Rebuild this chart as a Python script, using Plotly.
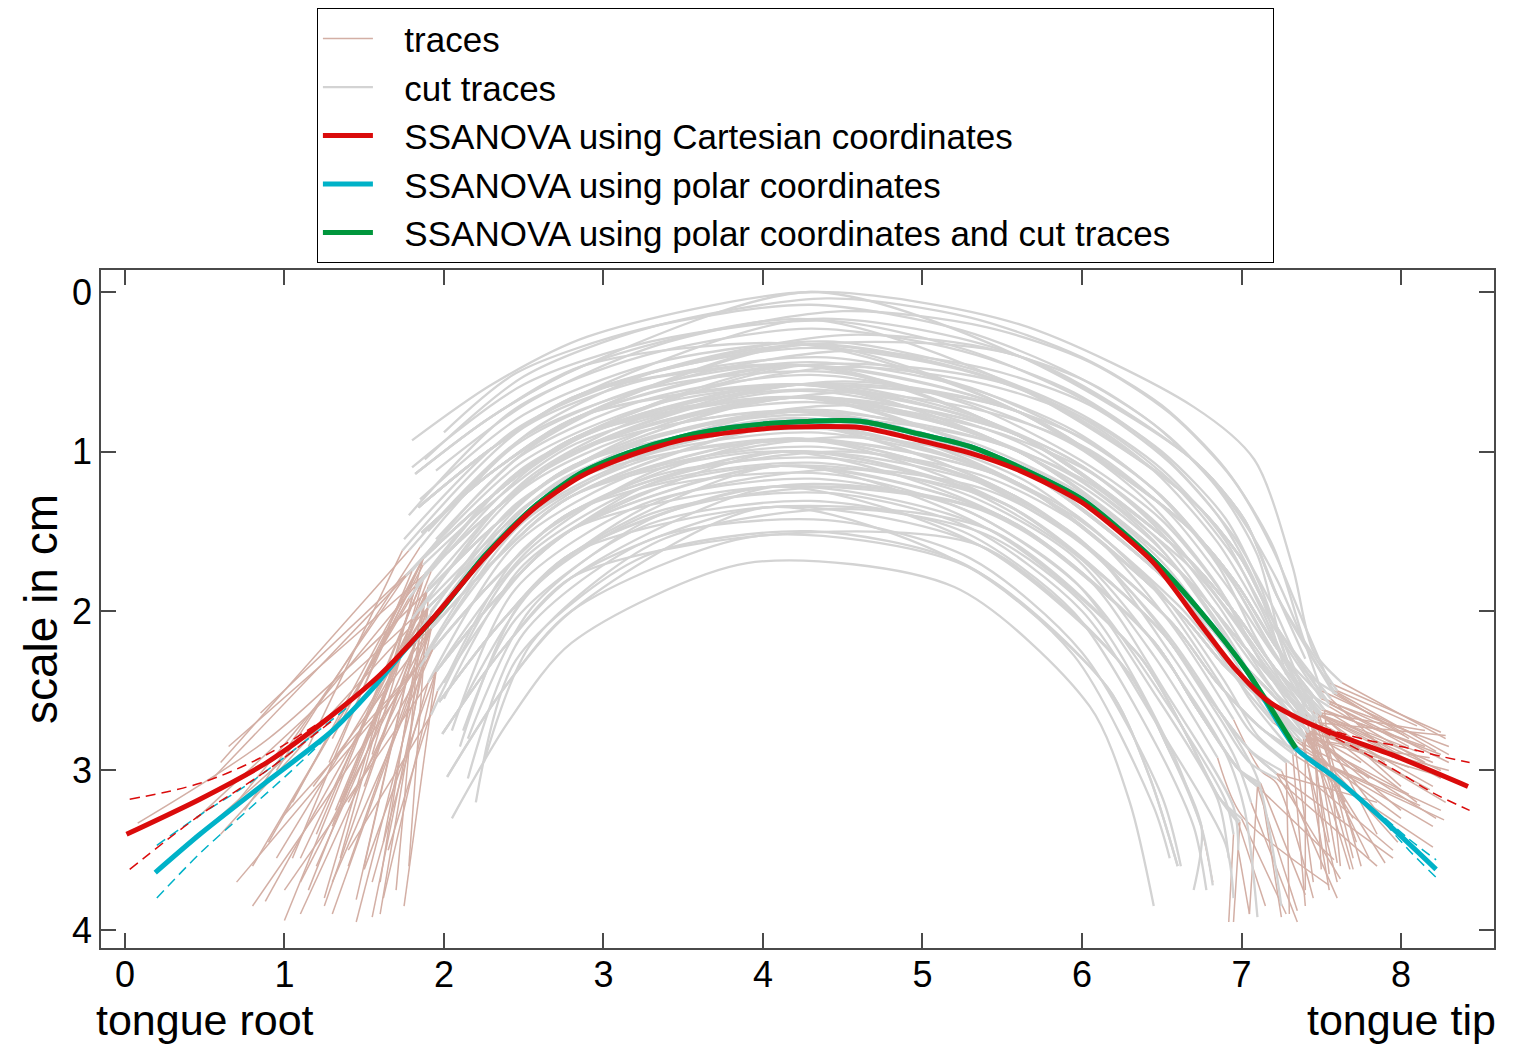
import plotly.graph_objects as go

# ---------------- data: individual tongue traces (x, y in cm) ----------------
# every trace is listed left -> right; GRAY_FROM / GRAY_TO give the index range of the
# part that survives the cut ("cut traces"); the outer ends belong only to "traces".
TRACE_X = [
    [1.80,2.30,2.90,4.30,5.60,6.70,7.08,7.32,7.45,7.63,8.28],
    [1.82,2.30,2.88,4.30,5.60,6.68,7.02,7.23,7.58,8.22],
    [1.82,2.30,2.88,4.28,5.60,6.66,6.99,7.22,7.46,7.72],
    [1.84,2.30,2.86,4.28,5.60,6.68,7.02,7.23,7.60,8.10],
    [1.84,2.30,2.86,4.26,5.60,6.66,6.99,7.22,7.55,8.30],
    [1.84,2.30,2.86,4.25,5.60,6.65,6.97,7.22,7.52,8.15],
    [1.86,2.30,2.85,4.26,5.60,6.66,6.99,7.22,7.56,7.95],
    [1.86,2.30,2.85,4.25,5.60,6.65,6.97,7.22,7.48,7.70],
    [1.86,2.30,2.85,4.25,5.60,6.63,6.95,7.21,7.50,8.25],
    [1.86,2.30,2.85,4.23,5.60,6.65,6.97,7.22,7.55,8.05],
    [1.84,2.30,2.86,4.25,5.60,6.63,6.95,7.21,7.50,8.00],
    [1.82,2.30,2.88,4.26,5.60,6.65,6.97,7.22,7.52,7.62],
    [1.84,2.30,2.86,4.26,5.60,6.68,7.02,7.23,7.40],
    [2.30,2.85,4.26,5.60,6.65,6.97,7.22,7.45],
    [1.05,1.87,2.30,2.83,4.23,5.60,6.63,6.95,7.21,7.50,8.20],
    [0.85,1.87,2.30,2.83,4.25,5.60,6.63,6.95,7.21,7.48,7.85],
    [1.35,1.87,2.30,2.83,4.23,5.60,6.62,6.93,7.21,7.48,8.28],
    [0.55,1.87,2.30,2.83,4.22,5.60,6.63,6.95,7.21,7.45,8.10],
    [1.00,1.88,2.30,2.82,4.22,5.60,6.62,6.93,7.21,7.45,7.60],
    [1.20,1.88,2.30,2.82,4.23,5.60,6.62,6.93,7.21,7.45,8.18],
    [0.80,1.88,2.30,2.82,4.22,5.60,6.61,6.92,7.20,7.42,8.05],
    [1.45,1.89,2.30,2.81,4.22,5.60,6.62,6.93,7.21,7.44,7.92],
    [0.08,0.90,1.89,2.30,2.81,4.21,5.60,6.61,6.92,7.20,7.42,8.30],
    [1.15,1.89,2.30,2.81,4.21,5.60,6.62,6.93,7.21,7.44,7.55],
    [0.70,1.88,2.30,2.82,4.21,5.60,6.60,6.90,7.20,7.40,8.22],
    [1.28,1.87,2.30,2.83,4.22,5.60,6.61,6.92,7.20,7.42,7.80],
    [1.60,1.89,2.30,2.81,4.21,5.60,6.61,6.92,7.20,7.40,7.90],
    [0.95,1.90,2.30,2.80,4.20,5.60,6.60,6.90,7.20,7.40,8.05],
    [1.25,1.90,2.30,2.80,4.21,5.60,6.60,6.90,7.20,7.38,7.60],
    [0.60,1.90,2.30,2.80,4.20,5.56,6.55,6.84,7.13,7.35,8.27],
    [1.40,1.92,2.31,2.80,4.20,5.60,6.60,6.90,7.20,7.40,7.98],
    [1.10,1.92,2.31,2.80,4.17,5.56,6.55,6.84,7.13,7.34,7.45],
    [1.32,1.89,2.30,2.81,4.20,5.56,6.55,6.84,7.13,7.35,8.12],
    [0.88,1.90,2.30,2.80,4.17,5.60,6.60,6.90,7.20,7.40,7.70],
    [1.55,1.92,2.31,2.80,4.17,5.60,6.60,6.90,7.20,7.40,8.18],
    [1.62,1.90,2.30,2.80,4.20,5.60,6.61,6.92,7.20,7.42,7.68],
    [1.30,1.93,2.32,2.80,4.14,5.52,6.49,6.78,7.05,7.25,7.60],
    [0.98,1.93,2.32,2.80,4.17,5.52,6.49,6.78,7.05,7.22,7.95],
    [1.50,1.95,2.33,2.80,4.11,5.48,6.44,6.72,6.98,7.10,7.35],
    [1.18,1.92,2.31,2.80,4.14,5.48,6.44,6.72,6.98,7.12,7.25],
    [1.75,1.95,2.33,2.80,4.14,5.52,6.49,6.78,7.05,7.22,7.85],
    [1.40,1.93,2.32,2.80,4.11,5.48,6.44,6.72,6.98,7.10,7.05],
    [1.95,2.33,2.80,4.11,5.52,6.49,6.78,7.05,7.22,7.62],
    [0.70,1.93,2.32,2.80,4.14,5.56,6.55,6.84,7.13,7.33,8.20],
    [1.97,2.35,2.80,4.07,5.42,6.35,6.63,6.86,6.99,6.95],
    [1.97,2.35,2.80,4.11,5.42,6.35,6.63,6.86,7.00,7.28],
    [1.99,2.36,2.80,4.02,5.36,6.27,6.54,6.75,6.82],
    [1.97,2.35,2.80,4.02,5.42,6.35,6.63,6.86,6.98,7.15],
    [1.62,1.95,2.33,2.80,4.07,5.48,6.44,6.72,6.98,7.10,7.58],
    [1.99,2.36,2.80,4.07,5.48,6.44,6.72,6.98,7.12,7.40],
    [1.97,2.35,2.80,4.07,5.36,6.27,6.54,6.75,6.70],
    [2.02,2.38,2.80,3.96,5.28,6.16,6.42,6.60],
    [2.05,2.40,2.80,3.90,5.20,6.05,6.30,6.45],
    [2.02,2.38,2.80,4.02,5.28,6.16,6.42,6.60],
    [1.99,2.36,2.80,3.96,5.36,6.27,6.54],
    [1.30,1.87,2.30,2.83,4.23,5.60,6.63,6.95,7.21,7.45,7.50],
    [0.65,1.88,2.30,2.82,4.22,5.60,6.63,6.95,7.21,7.50,8.15],
    [1.10,1.89,2.30,2.81,4.22,5.60,6.61,6.92,7.20,7.42,7.75],
    [1.50,1.90,2.30,2.80,4.21,5.60,6.61,6.92,7.20,7.42,8.00],
    [1.86,2.30,2.85,4.23,5.60,6.63,6.95,7.21,7.50,8.10],
    [1.40,1.87,2.30,2.83,4.25,5.60,6.66,6.99,7.22,7.52,8.02],
    [0.30,1.92,2.31,2.80,4.20,5.60,6.61,6.92,7.20,7.42,7.65],
    [1.55,1.88,2.30,2.82,4.23,5.60,6.65,6.97,7.22,7.52,8.25],
    [1.78,1.90,2.30,2.80,4.20,5.60,6.60,6.90,7.20,7.40,7.40],
    [1.88,2.50,3.30,4.40,5.30,6.00,6.50,6.90,7.20,7.38,7.50,8.10],
    [2.00,2.45,3.25,4.30,5.25,5.95,6.45,6.85,7.10,7.25,7.40,7.55],
    [1.95,2.55,3.35,4.50,5.40,6.05,6.55,6.95,7.20,7.40,7.55,8.25],
    [1.80,2.50,3.30,4.40,5.30,6.00,6.50,6.90,7.12,7.30,7.42,7.95],
    [1.78,2.45,3.25,4.30,5.25,5.95,6.45,6.85,7.10,7.28],
    [1.90,2.55,3.35,4.50,5.40,6.05,6.55,6.95,7.22,7.42,7.58,8.30],
    [1.85,2.50,3.30,4.40,5.30,6.00,6.50,6.90,7.12,7.32,7.48,7.75],
    [1.75,2.45,3.25,4.30,5.25,5.95,6.45,6.85,7.10,7.35,7.55,8.15],
    [1.95,2.55,3.35,4.50,5.40,6.05,6.55,6.95,7.20,7.40,7.60,8.05],
    [1.15,1.74,2.50,3.30,4.40,5.30,6.00,6.50,6.90,7.15,7.42,8.25],
    [0.95,1.85,2.45,3.25,4.30,5.25,5.95,6.45,6.85,7.08,7.35,7.62],
    [1.30,1.92,2.55,3.35,4.50,5.40,6.05,6.55,6.95,7.20,7.50,8.30],
    [0.60,1.78,2.50,3.30,4.40,5.30,6.00,6.50,6.90,7.12,7.38,7.80],
    [1.05,1.80,2.45,3.25,4.30,5.25,5.95,6.45,6.85,7.08,7.40,8.20],
    [1.50,1.90,2.55,3.35,4.50,5.40,6.05,6.55,6.95,7.20,7.45,7.90],
    [0.75,1.76,2.50,3.30,4.40,5.30,6.00,6.50,6.90,7.15,7.40,8.28],
    [1.25,1.82,2.45,3.25,4.30,5.25,5.95,6.45,6.85,7.10,7.38,7.55],
    [1.60,1.92,2.55,3.35,4.50,5.40,6.05,6.55,6.95,7.22,7.50,8.15],
    [0.90,1.78,2.50,3.30,4.40,5.30,6.00,6.50,6.90,7.12,7.35,8.00],
    [1.35,1.85,2.45,3.25,4.30,5.25,5.95,6.45,6.85,7.08,7.38,8.30],
    [1.10,1.92,2.55,3.35,4.50,5.40,6.05,6.55,6.95,7.20,7.45,7.70],
    [0.45,1.80,2.50,3.30,4.40,5.30,6.00,6.50,6.90,7.12,7.35,8.20],
    [1.70,1.85,2.45,3.25,4.30,5.25,5.95,6.45,6.85,7.05,7.32,7.40],
    [0.80,1.95,2.55,3.35,4.50,5.40,6.05,6.55,6.95,7.20,7.48,8.05],
    [1.20,1.82,2.50,3.30,4.40,5.30,6.00,6.50,6.90,7.10,7.30,7.95],
    [1.45,1.88,2.45,3.25,4.30,5.25,5.95,6.45,6.85,7.05,7.28,7.30],
    [1.00,1.95,2.55,3.35,4.50,5.40,6.05,6.55,6.95,7.20,7.42,8.25],
    [1.30,1.85,2.50,3.30,4.40,5.30,6.00,6.50,6.90,7.10,7.25],
    [1.55,1.90,2.45,3.25,4.30,5.25,5.95,6.45,6.85,7.05,7.22,7.85],
    [1.65,1.96,2.55,3.35,4.50,5.40,6.05,6.55,6.95,7.12,7.22,7.45],
    [2.00,2.50,3.30,4.40,5.30,6.00,6.50,6.90,7.02,7.10],
    [1.40,1.92,2.45,3.25,4.30,5.25,5.95,6.45,6.85,7.00,7.55],
    [2.08,2.55,3.35,4.50,5.40,6.05,6.55,6.95,7.06,7.35],
    [2.00,2.50,3.30,4.40,5.30,6.00,6.50,6.90,6.95,6.92],
    [2.05,2.45,3.25,4.30,5.25,5.95,6.45,6.85,6.92],
    [2.15,2.55,3.35,4.50,5.40,6.05,6.55,6.95,6.98,7.05],
    [2.10,2.50,3.30,4.40,5.30,6.00,6.50,6.90,6.95],
    [2.12,2.45,3.25,4.30,5.25,5.95,6.45,6.70,6.78],
    [2.25,2.55,3.35,4.50,5.40,6.05,6.55,6.75,6.82],
    [2.15,2.50,3.30,4.40,5.30,6.00,6.50,6.62],
    [2.20,2.45,3.25,4.30,5.25,5.95,6.45,6.55],
    [2.35,2.55,3.35,4.50,5.40,6.05,6.55,6.62],
]
TRACE_Y = [
    [0.93,0.58,0.28,0.00,0.20,0.72,1.05,1.72,2.25,2.45,2.80],
    [1.14,0.78,0.46,0.00,0.40,1.04,1.43,1.92,2.52,2.88],
    [1.14,0.78,0.46,0.17,0.60,1.28,1.66,2.10,2.68,3.45],
    [1.35,0.98,0.64,0.17,0.40,1.04,1.43,1.92,2.50,2.72],
    [1.35,0.98,0.64,0.33,0.60,1.28,1.66,2.10,2.58,2.95],
    [1.35,0.98,0.64,0.46,0.75,1.46,1.83,2.23,2.62,3.00],
    [1.51,1.13,0.78,0.33,0.60,1.28,1.66,2.10,2.55,2.92],
    [1.51,1.13,0.78,0.46,0.75,1.46,1.83,2.23,2.66,3.55],
    [1.51,1.13,0.78,0.46,0.90,1.64,2.00,2.36,2.65,3.05],
    [1.51,1.13,0.78,0.58,0.75,1.46,1.83,2.23,2.58,2.85],
    [1.35,0.98,0.64,0.46,0.90,1.64,2.00,2.36,2.65,3.10],
    [1.14,0.78,0.46,0.33,0.75,1.46,1.83,2.23,2.62,3.60],
    [1.35,0.98,0.64,0.33,0.40,1.04,1.43,1.92,2.30],
    [1.13,0.78,0.33,0.75,1.46,1.83,2.23,2.55],
    [3.20,1.67,1.28,0.91,0.58,0.90,1.64,2.00,2.36,2.65,2.95],
    [2.64,1.67,1.28,0.91,0.46,0.90,1.64,2.00,2.36,2.68,3.40],
    [3.55,1.67,1.28,0.91,0.58,1.00,1.76,2.12,2.45,2.70,2.78],
    [3.05,1.67,1.28,0.91,0.66,0.90,1.64,2.00,2.36,2.70,3.20],
    [3.94,1.77,1.38,1.00,0.66,1.00,1.76,2.12,2.45,2.72,3.58],
    [3.40,1.77,1.38,1.00,0.58,1.00,1.76,2.12,2.45,2.72,3.12],
    [3.60,1.77,1.38,1.00,0.66,1.10,1.88,2.24,2.53,2.75,2.98],
    [3.81,1.88,1.48,1.09,0.66,1.00,1.76,2.12,2.45,2.72,3.35],
    [3.33,2.80,1.88,1.48,1.09,0.75,1.10,1.88,2.24,2.53,2.76,3.00],
    [3.75,1.88,1.48,1.09,0.75,1.00,1.76,2.12,2.45,2.72,3.65],
    [3.20,1.77,1.38,1.00,0.75,1.20,2.00,2.35,2.62,2.78,3.30],
    [2.95,1.67,1.28,0.91,0.66,1.10,1.88,2.24,2.53,2.76,3.05],
    [3.70,1.88,1.48,1.09,0.75,1.10,1.88,2.24,2.53,2.78,3.58],
    [3.55,1.98,1.58,1.18,0.83,1.20,2.00,2.35,2.62,2.80,3.15],
    [3.85,1.98,1.58,1.18,0.75,1.20,2.00,2.35,2.62,2.82,3.70],
    [3.40,1.98,1.58,1.18,0.83,1.27,2.06,2.44,2.74,2.88,3.31],
    [3.60,2.11,1.69,1.28,0.83,1.20,2.00,2.35,2.62,2.80,3.45],
    [3.90,2.11,1.69,1.28,0.92,1.27,2.06,2.44,2.74,2.88,3.70],
    [3.25,1.88,1.48,1.09,0.83,1.27,2.06,2.44,2.74,2.88,3.22],
    [3.82,1.98,1.58,1.18,0.92,1.20,2.00,2.35,2.62,2.80,3.30],
    [3.92,2.11,1.69,1.28,0.92,1.20,2.00,2.35,2.62,2.80,2.92],
    [3.45,1.98,1.58,1.18,0.83,1.10,1.88,2.24,2.53,2.76,3.62],
    [3.70,2.24,1.80,1.38,1.00,1.33,2.12,2.52,2.87,3.00,3.80],
    [3.30,2.24,1.80,1.38,0.92,1.33,2.12,2.52,2.87,3.02,3.55],
    [3.62,2.38,1.92,1.49,1.09,1.40,2.18,2.61,2.99,3.10,3.88],
    [3.10,2.11,1.69,1.28,1.00,1.40,2.18,2.61,2.99,3.10,3.92],
    [3.85,2.38,1.92,1.49,1.00,1.33,2.12,2.52,2.87,3.02,3.20],
    [3.20,2.24,1.80,1.38,1.09,1.40,2.18,2.61,2.99,3.10,3.90],
    [2.38,1.92,1.49,1.09,1.33,2.12,2.52,2.87,3.02,3.68],
    [3.70,2.24,1.80,1.38,1.00,1.27,2.06,2.44,2.74,2.90,3.48],
    [2.57,2.08,1.64,1.22,1.49,2.27,2.73,3.17,3.32,3.95],
    [2.57,2.08,1.64,1.09,1.49,2.27,2.73,3.17,3.30,3.90],
    [2.77,2.25,1.79,1.35,1.59,2.36,2.86,3.36,3.72],
    [2.57,2.08,1.64,1.35,1.49,2.27,2.73,3.17,3.33,3.85],
    [3.80,2.38,1.92,1.49,1.22,1.40,2.18,2.61,2.99,3.10,3.56],
    [2.77,2.25,1.79,1.22,1.40,2.18,2.61,2.99,3.08,3.78],
    [2.57,2.08,1.64,1.22,1.59,2.36,2.86,3.36,3.75],
    [3.04,2.48,2.00,1.53,1.72,2.48,3.03,3.60],
    [3.30,2.70,2.20,1.70,1.85,2.60,3.20,3.85],
    [3.04,2.48,2.00,1.35,1.72,2.48,3.03,3.60],
    [2.77,2.25,1.79,1.53,1.59,2.36,2.86],
    [2.80,1.71,1.32,0.95,0.62,0.94,1.68,2.04,2.40,2.68,3.62],
    [2.85,1.77,1.38,1.00,0.66,0.90,1.64,2.00,2.36,2.64,2.75],
    [3.55,1.88,1.48,1.09,0.66,1.10,1.88,2.24,2.53,2.76,2.95],
    [3.10,1.98,1.58,1.18,0.75,1.10,1.88,2.24,2.53,2.76,3.25],
    [1.51,1.13,0.78,0.58,0.90,1.64,2.00,2.36,2.65,2.88],
    [2.60,1.67,1.28,0.91,0.46,0.60,1.28,1.66,2.10,2.55,2.78],
    [3.55,2.11,1.69,1.28,0.83,1.10,1.88,2.24,2.53,2.76,3.20],
    [2.90,1.77,1.38,1.00,0.58,0.75,1.46,1.83,2.23,2.62,2.90],
    [3.60,1.94,1.54,1.14,0.79,1.16,1.96,2.31,2.58,2.80,3.75],
    [1.05,0.53,0.22,0.04,0.16,0.41,0.71,1.11,1.60,2.15,2.50,2.78],
    [0.88,0.51,0.23,0.08,0.24,0.52,0.83,1.23,1.65,2.20,2.62,3.45],
    [1.12,0.68,0.33,0.12,0.22,0.44,0.76,1.18,1.62,2.10,2.45,2.76],
    [1.10,0.58,0.31,0.18,0.37,0.67,1.00,1.42,1.85,2.35,2.62,2.90],
    [1.40,0.73,0.40,0.23,0.37,0.63,0.97,1.40,1.85,2.40],
    [1.50,0.87,0.49,0.27,0.35,0.57,0.91,1.35,1.80,2.25,2.50,2.90],
    [1.30,0.77,0.45,0.31,0.48,0.77,1.11,1.56,1.98,2.40,2.62,3.60],
    [1.55,0.86,0.52,0.35,0.49,0.76,1.12,1.57,1.98,2.45,2.60,2.95],
    [1.55,0.97,0.58,0.37,0.48,0.71,1.07,1.53,1.98,2.38,2.52,2.80],
    [2.85,1.62,0.85,0.54,0.41,0.60,0.92,1.28,1.75,2.18,2.62,3.00],
    [3.00,1.60,0.96,0.60,0.44,0.59,0.87,1.24,1.71,2.15,2.62,3.30],
    [3.35,1.75,1.10,0.69,0.47,0.58,0.81,1.18,1.66,2.10,2.55,2.85],
    [2.95,1.62,0.91,0.60,0.50,0.71,1.06,1.43,1.92,2.32,2.70,3.55],
    [3.55,1.75,1.05,0.68,0.52,0.68,0.96,1.35,1.84,2.25,2.65,3.10],
    [3.60,1.85,1.15,0.75,0.56,0.69,0.94,1.33,1.83,2.25,2.62,2.95],
    [3.25,1.78,1.06,0.71,0.58,0.77,1.09,1.48,1.98,2.35,2.68,3.20],
    [3.80,1.85,1.14,0.76,0.61,0.77,1.06,1.46,1.96,2.35,2.75,3.75],
    [3.90,2.00,1.27,0.84,0.63,0.75,0.99,1.39,1.90,2.30,2.62,2.85],
    [3.45,1.92,1.10,0.76,0.66,0.87,1.22,1.62,2.14,2.50,2.82,3.30],
    [3.20,2.00,1.24,0.84,0.69,0.86,1.16,1.56,2.09,2.45,2.78,3.05],
    [3.70,2.10,1.32,0.90,0.71,0.86,1.13,1.54,2.06,2.42,2.72,3.62],
    [3.30,2.05,1.23,0.86,0.74,0.94,1.27,1.69,2.22,2.58,2.85,3.35],
    [3.75,2.12,1.33,0.92,0.77,0.95,1.25,1.67,2.21,2.55,2.88,3.85],
    [3.85,2.18,1.43,0.99,0.80,0.93,1.20,1.63,2.17,2.50,2.75,3.05],
    [3.60,2.20,1.35,0.97,0.86,1.08,1.44,1.89,2.45,2.78,2.95,3.50],
    [3.95,2.28,1.46,1.03,0.88,1.06,1.39,1.86,2.43,2.75,2.95,3.90],
    [3.75,2.38,1.60,1.11,0.91,1.04,1.33,1.82,2.40,2.70,2.85,3.25],
    [3.90,2.35,1.44,1.04,0.94,1.17,1.58,2.10,2.69,3.05,3.85],
    [3.70,2.45,1.58,1.12,0.97,1.15,1.52,2.05,2.65,2.95,3.05,3.60],
    [3.50,2.50,1.69,1.18,1.00,1.16,1.51,2.07,2.68,3.00,3.08,3.80],
    [2.45,1.61,1.16,1.04,1.25,1.68,2.27,2.89,3.25,3.92],
    [3.50,2.65,1.72,1.22,1.07,1.26,1.66,2.28,2.92,3.28,3.72],
    [2.65,1.87,1.31,1.11,1.24,1.61,2.26,2.90,3.20,3.95],
    [2.55,1.71,1.24,1.14,1.38,1.86,2.53,3.19,3.40,3.95],
    [2.75,1.86,1.33,1.17,1.36,1.81,2.51,3.18,3.55],
    [2.80,1.98,1.40,1.22,1.38,1.81,2.55,3.23,3.50,3.90],
    [2.85,1.92,1.39,1.26,1.48,2.00,2.76,3.46,3.80],
    [2.75,2.05,1.47,1.31,1.50,2.01,2.81,3.35,3.75],
    [2.95,2.20,1.56,1.36,1.52,2.00,2.85,3.35,3.70],
    [3.05,2.14,1.55,1.43,1.67,2.26,3.16,3.60],
    [3.20,2.31,1.66,1.50,1.70,2.28,3.23,3.55],
    [3.40,2.51,1.79,1.60,1.77,2.37,3.40,3.80],
]
GRAY_FROM = [0,0,0,0,0,0,0,0,0,0,0,0,0,0,
             1,1,1,1,1,1,1,1,2,1,1,1,1,1,1,1,1,1,1,1,1,1,
             1,1,1,1,1,1,0,1,0,0,0,0,1,0,0,0,0,0,0,1,1,1,1,0,1,1,1,1,
             0,0,0,0,0,0,0,0,0,1,1,1,1,1,1,1,1,1,1,1,1,1,1,1,1,1,1,1,1,1,
             0,1,0,0,0,0,0,0,0,0,0,0]
GRAY_TO = [9,8,8,8,8,8,8,8,8,8,8,8,8,7,
           9,9,9,9,9,9,9,9,10,9,9,9,9,9,9,9,9,9,9,9,9,9,
           9,9,9,9,9,9,8,9,8,8,8,8,9,8,8,7,7,7,6,9,9,9,9,8,9,9,9,9,
           10,10,10,10,9,10,10,10,10,10,10,10,10,10,10,10,10,10,10,10,10,10,10,10,10,10,9,10,10,
           8,9,8,8,8,8,8,8,8,7,7,7]

# ---------------- SSANOVA fits ----------------
CART_X = [0.01,0.47,0.89,1.29,1.60,1.91,2.25,2.55,2.85,3.15,3.48,3.80,4.11,4.61,
          4.98,5.30,5.61,6.00,6.45,6.74,6.95,7.16,7.37,7.58,7.99,8.42]
CART_Y = [3.40,3.18,2.95,2.66,2.40,2.07,1.67,1.37,1.16,1.03,0.93,0.88,0.85,0.85,
          0.93,1.01,1.12,1.32,1.70,2.08,2.35,2.56,2.68,2.77,2.92,3.10]
CART_CI_L_X = [0.03,0.47,0.89,1.31]
CART_CI_L_UP = [3.18,3.08,2.90,2.64]
CART_CI_L_LO = [3.62,3.28,3.00,2.68]
CART_CI_R_X = [7.50,7.79,8.00,8.20,8.43]
CART_CI_R_UP = [2.73,2.81,2.85,2.90,2.95]
CART_CI_R_LO = [2.75,2.90,3.02,3.14,3.25]

POLAR_X = [0.19,0.47,0.89,1.29,1.55,1.75,2.00,2.25,2.55,2.85,3.15,3.48,3.80,4.11,4.61,
           4.98,5.30,5.61,6.00,6.45,6.74,7.03,7.34,7.58,7.89,8.22]
POLAR_Y = [3.64,3.40,3.07,2.76,2.49,2.25,1.97,1.66,1.36,1.14,1.01,0.91,0.85,0.82,0.81,
           0.89,0.97,1.10,1.30,1.68,2.00,2.37,2.86,3.04,3.31,3.62]
POLAR_CI_L_X = [0.20,0.47,0.78,1.10,1.40]
POLAR_CI_L_UP = [3.47,3.28,3.08,2.84,2.60]
POLAR_CI_L_LO = [3.80,3.52,3.24,2.95,2.66]
POLAR_CI_R_X = [7.90,8.05,8.22]
POLAR_CI_R_UP = [3.30,3.43,3.56]
POLAR_CI_R_LO = [3.33,3.50,3.67]

CUT_X = [1.83,2.00,2.25,2.55,2.85,3.15,3.48,3.80,4.11,4.61,4.98,5.30,5.61,6.00,6.45,
         6.74,7.03,7.34]
CUT_Y = [2.16,1.97,1.66,1.36,1.14,1.01,0.91,0.85,0.82,0.81,0.89,0.97,1.10,1.30,1.68,
         2.00,2.37,2.86]

X_TICKS = [0, 1, 2, 3, 4, 5, 6, 7, 8]
Y_TICKS = [0, 1, 2, 3, 4]

BROWN = "#D3AFA5"
GRAY = "#D3D3D3"
RED = "#DA0B0B"
CYAN = "#00B2C8"
GREEN = "#00963C"
AXIS = "#4A4A4A"
FONT = "Liberation Sans, Arial, sans-serif"
PAD = "\u00a0\u00a0\u2009"          # gap between legend sample and label
TAIL = "\u00a0" * 10                # keeps the legend box as wide as the reference

# split every trace into the kept (cut) part and the discarded ends
bx, by, gx, gy = [], [], [], []
for xs, ys, a, b in zip(TRACE_X, TRACE_Y, GRAY_FROM, GRAY_TO):
    if a > 0:
        bx += xs[:a + 1] + [None]
        by += ys[:a + 1] + [None]
    if b < len(xs) - 1:
        bx += xs[b:] + [None]
        by += ys[b:] + [None]
    gx += xs[a:b + 1] + [None]
    gy += ys[a:b + 1] + [None]

fig = go.Figure()
fig.add_trace(go.Scatter(x=bx, y=by, mode="lines", name=PAD + "traces", legendrank=1,
                         line=dict(color=BROWN, width=1.5, shape="spline", smoothing=0.8),
                         connectgaps=False, hoverinfo="skip"))
fig.add_trace(go.Scatter(x=gx, y=gy, mode="lines", name=PAD + "cut traces", legendrank=2,
                         line=dict(color=GRAY, width=2.3, shape="spline", smoothing=0.8),
                         connectgaps=False, hoverinfo="skip"))

dash = "10px,6px"
for xs, ys in [(POLAR_CI_L_X, POLAR_CI_L_UP), (POLAR_CI_L_X, POLAR_CI_L_LO),
               (POLAR_CI_R_X, POLAR_CI_R_UP), (POLAR_CI_R_X, POLAR_CI_R_LO)]:
    fig.add_trace(go.Scatter(x=xs, y=ys, mode="lines", showlegend=False, hoverinfo="skip",
                             line=dict(color=CYAN, width=1.5, dash=dash, shape="spline")))
for xs, ys in [(CART_CI_L_X, CART_CI_L_UP), (CART_CI_L_X, CART_CI_L_LO),
               (CART_CI_R_X, CART_CI_R_UP), (CART_CI_R_X, CART_CI_R_LO)]:
    fig.add_trace(go.Scatter(x=xs, y=ys, mode="lines", showlegend=False, hoverinfo="skip",
                             line=dict(color=RED, width=1.5, dash=dash, shape="spline")))

fit_line = dict(width=5, shape="spline", smoothing=0.7)
fig.add_trace(go.Scatter(x=POLAR_X, y=POLAR_Y, mode="lines", legendrank=4,
                         name=PAD + "SSANOVA using polar coordinates",
                         line=dict(color=CYAN, **fit_line)))
fig.add_trace(go.Scatter(x=CUT_X, y=CUT_Y, mode="lines", legendrank=5,
                         name=PAD + "SSANOVA using polar coordinates and cut traces" + TAIL,
                         line=dict(color=GREEN, **fit_line)))
fig.add_trace(go.Scatter(x=CART_X, y=CART_Y, mode="lines", legendrank=3,
                         name=PAD + "SSANOVA using Cartesian coordinates",
                         line=dict(color=RED, **fit_line)))

axis_common = dict(showgrid=False, zeroline=False, showline=True, linecolor=AXIS,
                   linewidth=1.5, mirror="ticks", ticks="inside", ticklen=15,
                   tickwidth=1.5, tickcolor=AXIS,
                   tickfont=dict(family=FONT, size=36, color="black"))

fig.update_layout(
    width=1528, height=1057,
    margin=dict(l=101, r=34, t=270, b=109, autoexpand=False),
    paper_bgcolor="white", plot_bgcolor="white",
    font=dict(family=FONT, color="black"),
    showlegend=True,
    legend=dict(x=0.155, y=1.386, xanchor="left", yanchor="top",
                bgcolor="white", bordercolor="black", borderwidth=1,
                font=dict(family=FONT, size=35, color="black"),
                traceorder="normal", itemwidth=50),
    xaxis=dict(range=[-0.15, 8.583], tickvals=X_TICKS, ticklabelstandoff=-6,
               **axis_common),
    yaxis=dict(range=[4.113, -0.138], tickvals=Y_TICKS,
               title=dict(text="scale in cm", font=dict(family=FONT, size=46), standoff=0),
               **axis_common),
    annotations=[
        dict(text="tongue root", x=-0.005, y=-0.106, xref="paper", yref="paper",
             xanchor="left", yanchor="middle", showarrow=False,
             font=dict(family=FONT, size=43, color="black")),
        dict(text="tongue tip", x=1.003, y=-0.106, xref="paper", yref="paper",
             xanchor="right", yanchor="middle", showarrow=False,
             font=dict(family=FONT, size=43, color="black")),
    ],
)

fig.write_html("out.html")
